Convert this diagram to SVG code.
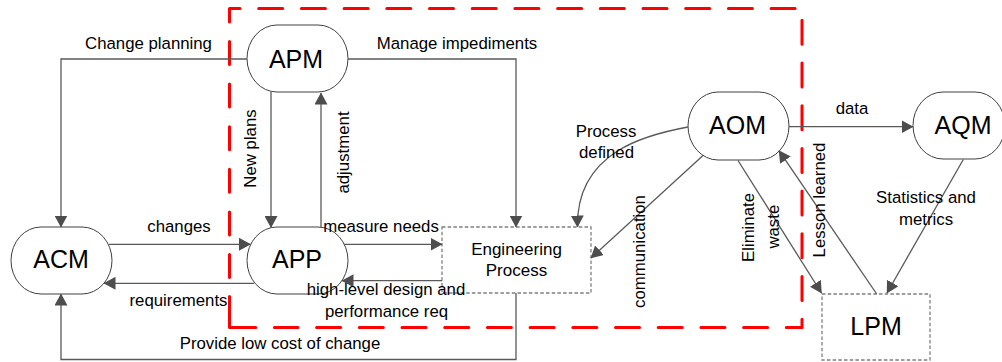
<svg xmlns="http://www.w3.org/2000/svg" width="1002" height="362" viewBox="0 0 1002 362">
  <style>
    .node { fill: #ffffff; stroke: #404040; stroke-width: 1; }
    .box { fill: #ffffff; stroke: #7f7f7f; stroke-width: 1.3; stroke-dasharray: 3.5 2.2; }
    .node-text { font-family: "Liberation Sans", Arial, sans-serif; font-size: 25px; fill: #000000; text-anchor: middle; }
    .box-text { font-family: "Liberation Sans", Arial, sans-serif; font-size: 17px; fill: #000000; text-anchor: middle; }
    .label { font-family: "Liberation Sans", Arial, sans-serif; font-size: 16.8px; fill: #000000; text-anchor: middle; }
    .link { fill: none; stroke: #595959; stroke-width: 1.3; }
    .arrow { marker-end: url(#arr); }
    .zone { fill: none; stroke: #ff0000; stroke-width: 3; stroke-linecap: round; stroke-linejoin: round; }
  </style>
  <defs>
    <marker id="arr" viewBox="0 0 12 13" refX="11.5" refY="6.5" markerWidth="12" markerHeight="13" markerUnits="userSpaceOnUse" orient="auto">
      <path d="M0,0 L12,6.5 L0,13 Z" fill="#4d4d4d"/>
    </marker>
  </defs>

  <!-- agile project boundary (red dashed) -->
  <g id="boundary">
    <path class="zone" d="M229.5,22 V8.5 H802 V327.5 H274.4" stroke-dasharray="24 18.7"/>
    <path class="zone" d="M229.5,41.5 V278" stroke-dasharray="23 19.6"/>
    <path class="zone" d="M229.5,296.5 V327.5 H255.7"/>
  </g>

  <!-- nodes -->
  <g id="APM">
    <rect class="node" x="247" y="25" width="101" height="67" rx="30" ry="33.5"/>
    <text class="node-text" x="296" y="68">APM</text>
  </g>
  <g id="APP">
    <rect class="node" x="247" y="227" width="101" height="67" rx="30" ry="33.5"/>
    <text class="node-text" x="297" y="268.3">APP</text>
  </g>
  <g id="ACM">
    <rect class="node" x="11" y="227" width="101" height="67" rx="30" ry="33.5"/>
    <text class="node-text" x="61" y="268.3">ACM</text>
  </g>
  <g id="AOM">
    <rect class="node" x="688" y="92" width="101" height="68" rx="30" ry="34"/>
    <text class="node-text" x="737.5" y="134.3">AOM</text>
  </g>
  <g id="AQM">
    <rect class="node" x="913" y="92" width="92" height="67" rx="30" ry="33.5"/>
    <text class="node-text" x="963" y="134.3">AQM</text>
  </g>
  <g id="EngineeringProcess">
    <rect class="box" x="442" y="227" width="149" height="66"/>
    <text class="box-text" x="516.5" y="255">Engineering</text>
    <text class="box-text" x="516.5" y="276">Process</text>
  </g>
  <g id="LPM">
    <rect class="box" x="822" y="294" width="108" height="66"/>
    <text class="node-text" x="876" y="335">LPM</text>
  </g>

  <!-- connectors -->
  <g id="connectors">
    <!-- APM -> ACM : Change planning -->
    <path class="link arrow" d="M247,59 H61 V227"/>
    <text class="label" x="148.5" y="49">Change planning</text>

    <!-- APM -> Engineering Process : Manage impediments -->
    <path class="link arrow" d="M348,59 H516 V227"/>
    <text class="label" x="457" y="49">Manage impediments</text>

    <!-- APM -> APP : New plans -->
    <path class="link arrow" d="M271,92 V227.5"/>
    <text class="label" transform="translate(255.5,148.5) rotate(-90)">New plans</text>

    <!-- APP -> APM : adjustment -->
    <path class="link arrow" d="M321,227 V93"/>
    <text class="label" transform="translate(349,152.5) rotate(-90)">adjustment</text>

    <!-- ACM -> APP : changes -->
    <path class="link arrow" d="M109,244.3 H250.5"/>
    <text class="label" x="179" y="231.7">changes</text>

    <!-- APP -> ACM : requirements -->
    <path class="link arrow" d="M254,283.3 H104"/>
    <text class="label" x="178.5" y="305.7">requirements</text>

    <!-- APP -> Engineering Process : measure needs -->
    <path class="link arrow" d="M344,244.3 H442"/>
    <text class="label" x="381" y="231.7">measure needs</text>

    <!-- Engineering Process -> APP : high-level design and performance req -->
    <path class="link arrow" d="M442,280.7 H342"/>
    <text class="label" x="386" y="295">high-level design and</text>
    <text class="label" x="386.5" y="316.7">performance req</text>

    <!-- Engineering Process -> ACM : Provide low cost of change -->
    <path class="link arrow" d="M516,293 V359.5 H61 V294"/>
    <text class="label" x="280" y="349">Provide low cost of change</text>

    <!-- AOM -> Engineering Process : Process defined -->
    <path class="link arrow" d="M688,127 C650,134 576,150 577.5,227"/>
    <text class="label" x="606" y="136.7">Process</text>
    <text class="label" x="606.5" y="158">defined</text>

    <!-- AOM -> Engineering Process : communication -->
    <path class="link arrow" d="M703,155.4 L591,258"/>
    <text class="label" transform="translate(645,251.5) rotate(-90)">communication</text>

    <!-- AOM -> LPM : Eliminate waste -->
    <path class="link arrow" d="M738,160.5 L821.5,293"/>
    <text class="label" transform="translate(754,227.5) rotate(-90)">Eliminate</text>
    <text class="label" transform="translate(778.5,226.7) rotate(-90)">waste</text>

    <!-- LPM -> AOM : Lesson learned -->
    <path class="link arrow" d="M876.7,294 L779,150.7"/>
    <text class="label" transform="translate(825.3,200) rotate(-90)">Lesson learned</text>

    <!-- AOM -> AQM : data -->
    <path class="link arrow" d="M789,126.7 H913"/>
    <text class="label" x="852" y="114">data</text>

    <!-- AQM -> LPM : Statistics and metrics -->
    <path class="link arrow" d="M963.3,159.5 L887,293"/>
    <text class="label" x="926" y="203">Statistics and</text>
    <text class="label" x="926" y="225">metrics</text>
  </g>
</svg>
